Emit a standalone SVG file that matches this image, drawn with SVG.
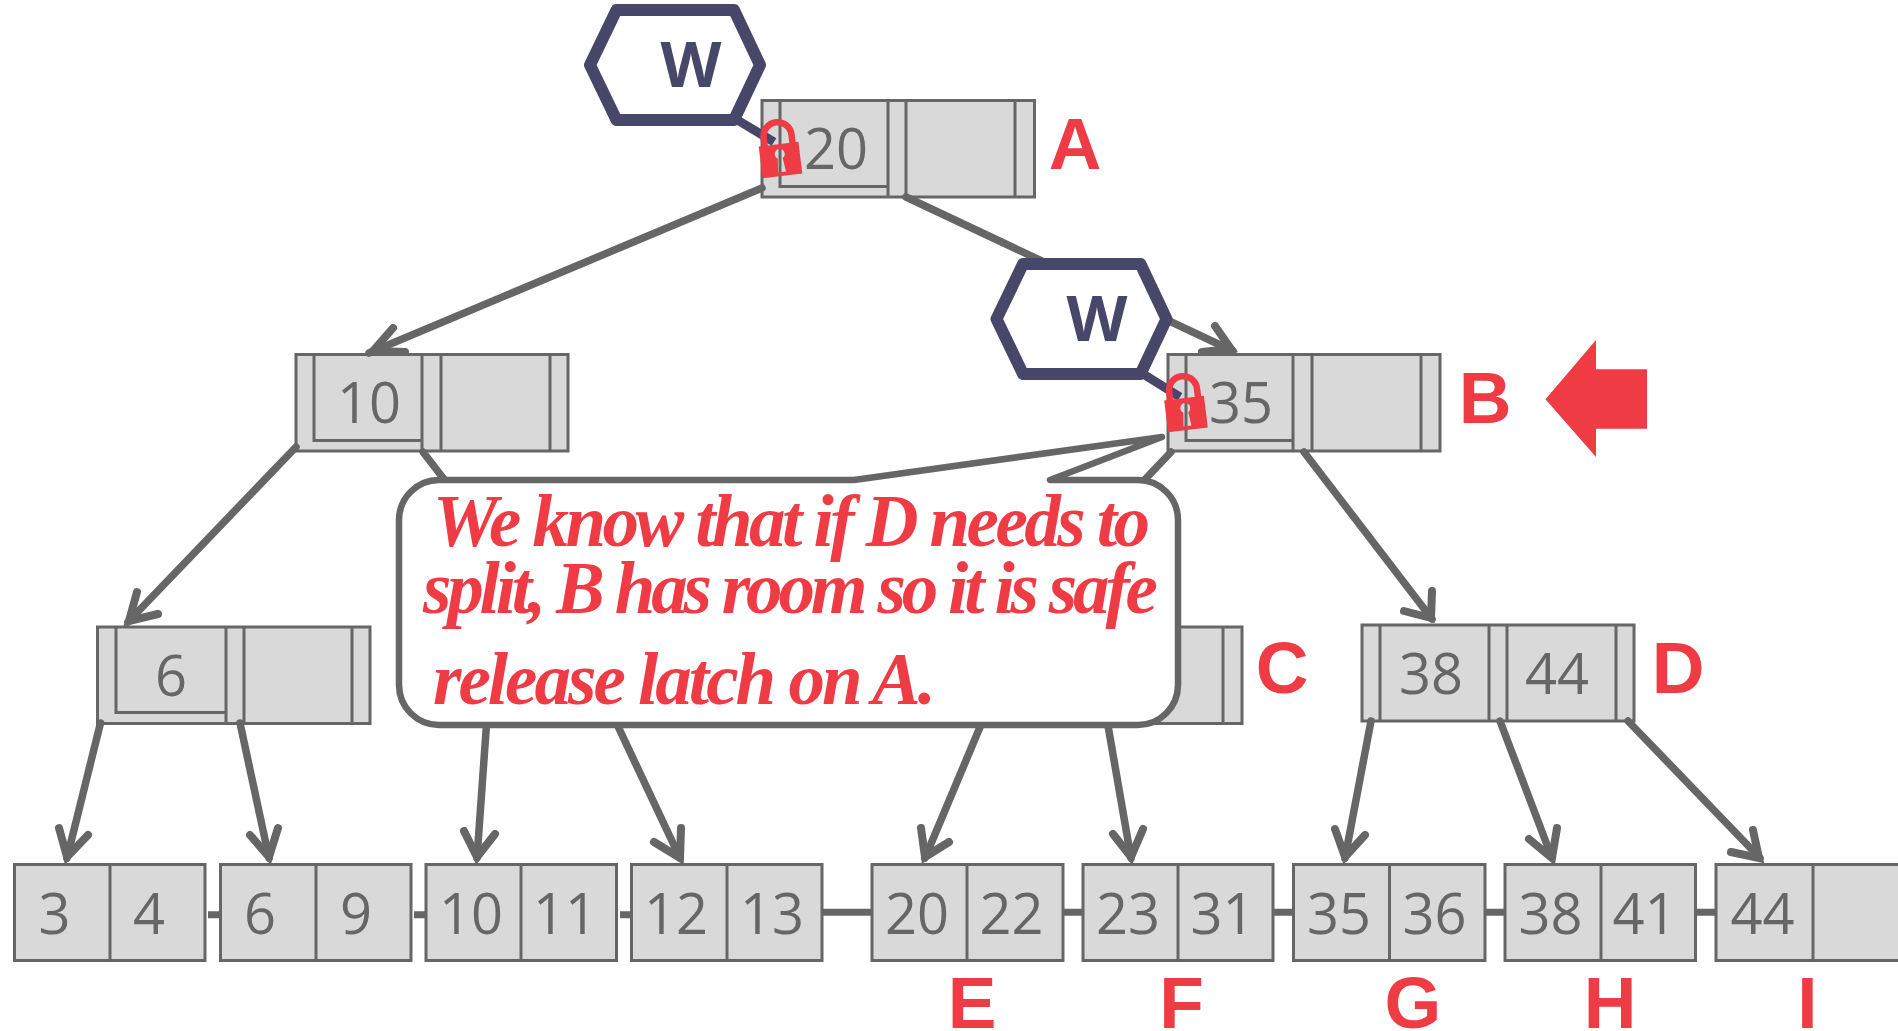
<svg xmlns="http://www.w3.org/2000/svg" xmlns:xlink="http://www.w3.org/1999/xlink" width="1898" height="1031" viewBox="0 0 1898 1031">
<style>
.cell{fill:#d9d9d9;stroke:#666;stroke-width:3}
.bar{fill:none;stroke:#666;stroke-width:3}
.num{font-family:"Open Sans","Liberation Sans",sans-serif;font-size:56px;fill:#666;text-anchor:middle}
.lab{font-family:"Liberation Sans",sans-serif;font-weight:700;font-size:73px;fill:#ef3b44;text-anchor:middle}
.edge{fill:none;stroke:#666;stroke-width:7.5;stroke-linecap:round}
.link{fill:none;stroke:#666;stroke-width:7}
.head{fill:none;stroke:#666;stroke-width:8;stroke-linecap:round;stroke-linejoin:miter;stroke-miterlimit:8}
.latch{fill:none;stroke:#464769;stroke-width:9}
.hex{fill:#fff;stroke:#464769;stroke-width:12;stroke-linejoin:round}
.w{font-family:"Open Sans",sans-serif;font-weight:700;font-size:63px;fill:#464769;text-anchor:middle}
.note{font-family:"Liberation Serif",serif;font-weight:700;font-style:italic;font-size:73px;fill:#ef3b44}
.call{fill:#fff;stroke:#666;stroke-width:6.500;stroke-linejoin:round}
</style>
<defs>
<g id="lock">
<path d="M-14,-15V-24A14,14 0 0 1 14,-24V-15" fill="none" stroke="#ef3b44" stroke-width="6.500"/>
<path fill="#ef3b44" fill-rule="evenodd" d="M-20,-16H20V16H-20ZM-5,-6A5,5 0 0 0 -2.500,-1.500L-4,12H4L2.500,-1.500A5,5 0 0 0 5,-6A5,5 0 0 0 -5,-6Z"/>
</g>
</defs>
<rect width="1898" height="1031" fill="#fff"/>

<g id="node-A">
<rect class="cell" x="762" y="100.500" width="272.500" height="96.500"/>
<path class="bar" d="M780,100.500V186.500H888M888,100.500V197M906,100.500V197M1015,100.500V197"/>
<text class="num" x="836" y="169">20</text>
<text class="lab" x="1075" y="169">A</text>
</g>
<g id="node-B">
<rect class="cell" x="1168" y="354.500" width="272" height="96.500"/>
<path class="bar" d="M1186,354.500V440.500H1293M1293,354.500V451M1312,354.500V451M1421,354.500V451"/>
<text class="num" x="1241" y="423">35</text>
<text class="lab" x="1485" y="423">B</text>
<path fill="#ef3b44" d="M1545.500,399.300L1596,340V369.300H1647V428.700H1596V457Z"/>
</g>
<g id="node-10">
<rect class="cell" x="296" y="354.500" width="272" height="96.500"/>
<path class="bar" d="M314,354.500V440.500H422M422,354.500V451M441,354.500V451M550,354.500V451"/>
<text class="num" x="369" y="423">10</text>
</g>
<g id="node-6">
<rect class="cell" x="97.500" y="627" width="272.500" height="96.500"/>
<path class="bar" d="M116,627V712.500H226M226,627V723.500M244,627V723.500M352,627V723.500"/>
<text class="num" x="171" y="696">6</text>
</g>
<g id="node-C">
<rect class="cell" x="969" y="627" width="273" height="96.500"/>
<path class="bar" d="M1223,627V723.500"/>
<text class="lab" x="1282" y="693">C</text>
</g>
<g id="node-D">
<rect class="cell" x="1362" y="625" width="272" height="96"/>
<path class="bar" d="M1380,625V721M1489,625V721M1507,625V721M1616,625V721"/>
<text class="num" x="1431" y="694">38</text>
<text class="num" x="1557" y="694">44</text>
<text class="lab" x="1678" y="693">D</text>
</g>

<g id="leaf-1"><rect class="cell" x="14.500" y="864.500" width="190.500" height="96"/><path class="bar" d="M110,864.500V960.500"/><text class="num" x="54.500" y="934">3</text><text class="num" x="149" y="934">4</text></g>
<g id="leaf-2"><rect class="cell" x="220.500" y="864.500" width="190.500" height="96"/><path class="bar" d="M316,864.500V960.500"/><text class="num" x="260" y="934">6</text><text class="num" x="356" y="934">9</text></g>
<g id="leaf-3"><rect class="cell" x="426" y="864.500" width="190.500" height="96"/><path class="bar" d="M521,864.500V960.500"/><text class="num" x="471" y="934">10</text><text class="num" x="565" y="934">11</text></g>
<g id="leaf-4"><rect class="cell" x="631.500" y="864.500" width="190.500" height="96"/><path class="bar" d="M727,864.500V960.500"/><text class="num" x="676" y="934">12</text><text class="num" x="772" y="934">13</text></g>
<g id="leaf-E"><rect class="cell" x="872" y="864.500" width="191" height="96"/><path class="bar" d="M967,864.500V960.500"/><text class="num" x="917" y="934">20</text><text class="num" x="1011.500" y="934">22</text><text class="lab" x="972" y="1028">E</text></g>
<g id="leaf-F"><rect class="cell" x="1083" y="864.500" width="190" height="96"/><path class="bar" d="M1178,864.500V960.500"/><text class="num" x="1128" y="934">23</text><text class="num" x="1222.500" y="934">31</text><text class="lab" x="1181.500" y="1028">F</text></g>
<g id="leaf-G"><rect class="cell" x="1293.500" y="864.500" width="191.500" height="96"/><path class="bar" d="M1389.500,864.500V960.500"/><text class="num" x="1339" y="934">35</text><text class="num" x="1434.500" y="934">36</text><text class="lab" x="1413" y="1028">G</text></g>
<g id="leaf-H"><rect class="cell" x="1505" y="864.500" width="190.500" height="96"/><path class="bar" d="M1601,864.500V960.500"/><text class="num" x="1550.500" y="934">38</text><text class="num" x="1644.500" y="934">41</text><text class="lab" x="1610" y="1028">H</text></g>
<g id="leaf-I"><rect class="cell" x="1716" y="864.500" width="200" height="96"/><path class="bar" d="M1813,864.500V960.500"/><text class="num" x="1762.500" y="934">44</text><text class="lab" x="1807.500" y="1028">I</text></g>

<g id="connectors">
<path class="link" d="M208,914.700H220.500M414,914.700H426M620,914.700H631.500M823,912.300H872M1063,912.300H1083M1273,912.300H1293.500M1485,912.300H1505M1696,912.300H1716"/>
<path class="edge" d="M762,188L369,353"/><path class="head" d="M393,328L373,351L405,352"/>
<path class="edge" d="M906,197L1233,351"/><path class="head" d="M1215,326L1231,349L1202,352"/>
<path class="edge" d="M296,447L128,622"/><path class="head" d="M137,592L129,621L158,614"/>
<path class="edge" d="M423,452L450,487"/>
<path class="edge" d="M1171,452L1135,490"/>
<path class="edge" d="M1304,452L1432,619"/><path class="head" d="M1404,611L1431,618L1432,591"/>
<path class="edge" d="M100.500,723L67,858"/><path class="head" d="M59,828L67,857L88,835"/>
<path class="edge" d="M240,723L269,858"/><path class="head" d="M250,835L269,857L278,828"/>
<path class="edge" d="M486.800,720L477,858"/><path class="head" d="M464,831L477,857L495,834"/>
<path class="edge" d="M615,720L680,858"/><path class="head" d="M654,842L680,858L681,828"/>
<path class="edge" d="M983,720L925,858"/><path class="head" d="M921,828L925,857L949,842"/>
<path class="edge" d="M1107,720L1131,858"/><path class="head" d="M1113,834L1131,857L1143,829"/>
<path class="edge" d="M1371,721L1345,858"/><path class="head" d="M1335,829L1345,857L1365,835"/>
<path class="edge" d="M1500,721L1552,858"/><path class="head" d="M1529,839L1552,858L1557,828"/>
<path class="edge" d="M1628,721L1760,858"/><path class="head" d="M1731,852L1759,858L1753,830"/>
<path class="latch" d="M734,118L774,142"/>
<path class="latch" d="M1140,372L1180,397"/>
</g>

<g id="callout">
<path class="call" d="M439,480H854L1162,437L1050,480H1138A40,40 0 0 1 1178,520V685A40,40 0 0 1 1138,725H439A40,40 0 0 1 399,685V520A40,40 0 0 1 439,480Z"/>
<text class="note" x="433" y="546" textLength="717" lengthAdjust="spacing">We know that if D needs to</text>
<text class="note" x="423" y="613" textLength="735" lengthAdjust="spacing">split, B has room so it is safe</text>
<text class="note" x="433" y="704" textLength="503" lengthAdjust="spacing">release latch on A.</text>
</g>

<g id="writer-1">
<polygon class="hex" points="590,65 616.500,10 734,10 760,65 734,120 616.500,120"/>
<text class="w" x="691" y="87">W</text>
</g>
<g id="writer-2">
<polygon class="hex" points="996.500,319 1023,264 1140.500,264 1166.500,319 1140.500,374 1023,374"/>
<text class="w" x="1097" y="341">W</text>
</g>
<use id="lock-A" href="#lock" transform="translate(780.500,160) rotate(-7)"/>
<use id="lock-B" href="#lock" transform="translate(1186,414) rotate(-7)"/>
</svg>
